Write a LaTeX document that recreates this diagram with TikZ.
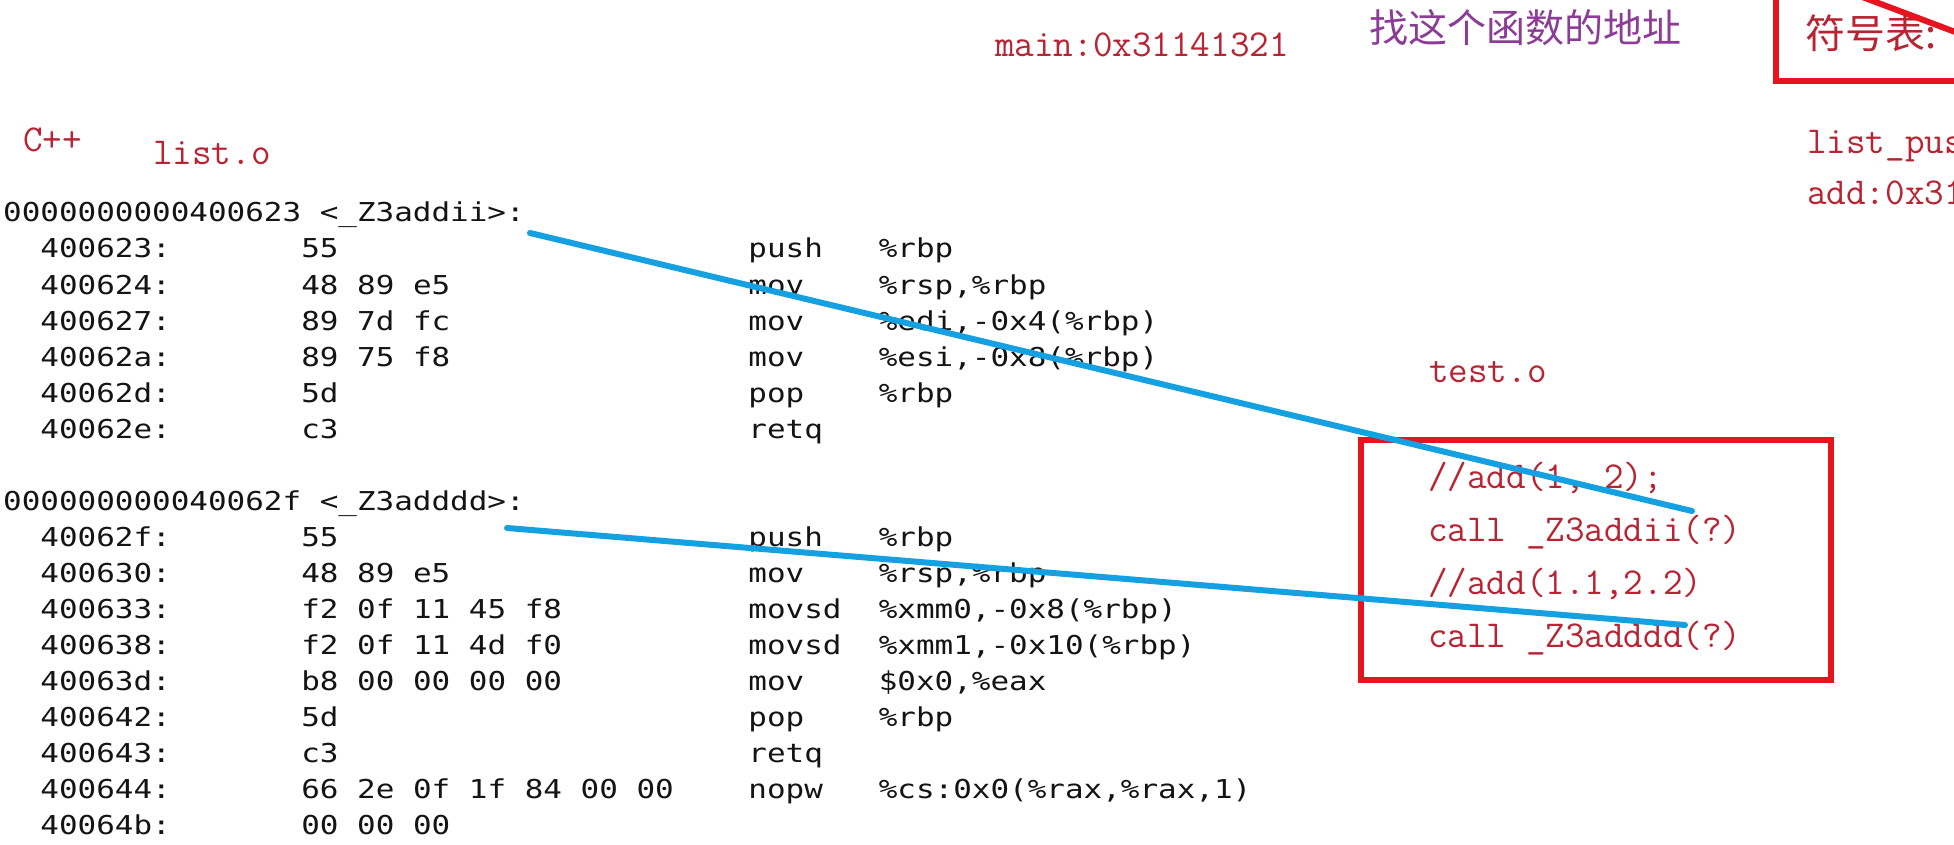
\documentclass[tikz,border=0pt]{standalone}
\usepackage{fontspec}
\newfontfamily\lstfont[FakeStretch=1.19]{DejaVu Sans Mono}
\newfontfamily\cjk{Noto Sans CJK SC}
\definecolor{redtext}{RGB}{185,35,50}
\definecolor{purpletext}{RGB}{140,60,150}
\definecolor{redbox}{RGB}{230,20,30}
\definecolor{bluepen}{RGB}{20,160,225}
\tikzset{
  lst/.style={anchor=base west, inner sep=0pt, text=black!92, font=\lstfont\fontsize{26}{30}\selectfont},
  rtxt/.style={anchor=base west, inner sep=0pt, text=redtext, font=\ttfamily\fontsize{38}{44}\selectfont},
  cjktxt/.style={inner sep=0pt, font=\cjk\fontsize{39}{44}\selectfont},
  boxline/.style={draw=redbox, line width=6pt},
  penline/.style={draw=bluepen, line width=6pt, line cap=round}
}
\newcommand\colx[1]{3+18.63*#1}
\newcommand\liny[1]{222+36*#1}
% full row: line, addr, bytes, mnemonic, operands
\newcommand\asmrow[5]{%
  \node[lst] (a#1) at ({\colx{2}},{\liny{#1}}) {#2};
  \node[lst] (b#1) at ({\colx{16}},{\liny{#1}}) {#3};
  \node[lst] (m#1) at ({\colx{40}},{\liny{#1}}) {#4};
  \node[lst] (o#1) at ({\colx{47}},{\liny{#1}}) {#5};}
\newcommand\asmrowm[4]{%
  \node[lst] (a#1) at ({\colx{2}},{\liny{#1}}) {#2};
  \node[lst] (b#1) at ({\colx{16}},{\liny{#1}}) {#3};
  \node[lst] (m#1) at ({\colx{40}},{\liny{#1}}) {#4};}
\newcommand\asmrowb[3]{%
  \node[lst] (a#1) at ({\colx{2}},{\liny{#1}}) {#2};
  \node[lst] (b#1) at ({\colx{16}},{\liny{#1}}) {#3};}
\begin{document}
\begin{tikzpicture}[x=1pt,y=-1pt]
\useasboundingbox[fill=white] (0,0) rectangle (1954,845);
\clip (0,0) rectangle (1954,845);

% ---- listing ----
\node[lst] (h0) at ({\colx{0}},{\liny{0}}) {0000000000400623 <\_Z3addii>:};
\asmrow{1}{400623:}{55}{push}{\%rbp}
\asmrow{2}{400624:}{48 89 e5}{mov}{\%rsp,\%rbp}
\asmrow{3}{400627:}{89 7d fc}{mov}{\%edi,-0x4(\%rbp)}
\asmrow{4}{40062a:}{89 75 f8}{mov}{\%esi,-0x8(\%rbp)}
\asmrow{5}{40062d:}{5d}{pop}{\%rbp}
\asmrowm{6}{40062e:}{c3}{retq}
\node[lst] (h8) at ({\colx{0}},{\liny{8}}) {000000000040062f <\_Z3adddd>:};
\asmrow{9}{40062f:}{55}{push}{\%rbp}
\asmrow{10}{400630:}{48 89 e5}{mov}{\%rsp,\%rbp}
\asmrow{11}{400633:}{f2 0f 11 45 f8}{movsd}{\%xmm0,-0x8(\%rbp)}
\asmrow{12}{400638:}{f2 0f 11 4d f0}{movsd}{\%xmm1,-0x10(\%rbp)}
\asmrow{13}{40063d:}{b8 00 00 00 00}{mov}{\$0x0,\%eax}
\asmrow{14}{400642:}{5d}{pop}{\%rbp}
\asmrowm{15}{400643:}{c3}{retq}
\asmrow{16}{400644:}{66 2e 0f 1f 84 00 00}{nopw}{\%cs:0x0(\%rax,\%rax,1)}
\asmrowb{17}{40064b:}{00 00 00}

% ---- red labels ----
\node[rtxt] (cpp) at (23,152) {C++};
\node[rtxt] (listo) at (153,165) {list.o};
\node[rtxt] (mainaddr) at (995,57) {main:0x31141321};
\node[rtxt] (testo) at (1429,382) {test.o};
\node[rtxt] (t1) at (1428,488) {//add(1, 2);};
\node[rtxt] (t2) at (1428,541) {call \_Z3addii(?)};
\node[rtxt] (t3) at (1428,594) {//add(1.1,2.2)};
\node[rtxt] (t4) at (1428,647) {call \_Z3adddd(?)};
\node[rtxt] (lp) at (1807,154) {list\_pus};
\node[rtxt] (ad) at (1807,205) {add:0x31};

% ---- Chinese labels ----
\node[cjktxt, text=purpletext] (find) at (1525,28) {找这个函数的地址};
\node[cjktxt, text=redtext, anchor=west, font=\cjk\fontsize{40}{44}\selectfont] (sym) at (1805,33) {符号表:};

% ---- red boxes ----
\draw[boxline] (1361,440) rectangle (1831,680);
\draw[boxline] (1776,-30) rectangle (1995,81);
\draw[boxline] (1857,-5) -- (1995,47);

% ---- blue pen strokes ----
\coordinate (s1) at (530,233);
\coordinate (e1) at (1692,511);
\coordinate (s2) at (507,528);
\coordinate (e2) at (1685,625);
\draw[penline] (s1) -- (e1);
\draw[penline] (s2) -- (e2);
\end{tikzpicture}
\end{document}
